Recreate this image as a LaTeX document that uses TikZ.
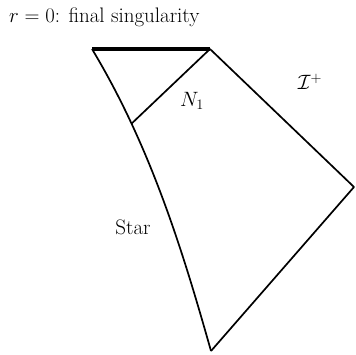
\documentclass[tikz,border=0pt]{standalone}
\usepackage{amsmath, amsfonts, amssymb}
\usepackage{tikz}
\usetikzlibrary{positioning}

\begin{document}
\begin{tikzpicture}[x=1pt, y=-1pt, % one unit per pixel of the figure
          edge/.style={draw=black, line width=1.7pt, line join=round},
          singular/.style={draw=black, line width=4pt},
          label/.style={font=\fontsize{21}{25}\selectfont, inner sep=0pt}
        ]
        \useasboundingbox (0,0) rectangle (356,354);
        % Corners of the diagram
        \coordinate (singL) at (92,49);
        \coordinate (singR) at (210,49);
        \coordinate (scri) at (354,187);
        \coordinate (bottom) at (211,351);

        % Singularity r=0
        \draw[singular] (singL) -- (singR);
        % Boundary of the star and null lines
        \draw[edge] (singL) .. controls (151,147) and (183,252) .. coordinate[pos=0.25] (nOne) (bottom);
        \draw[edge] (singR) -- (scri) -- (bottom);
        \draw[edge] (singR) -- (nOne);

        % Labels
        \node[label, anchor=base west] (title) at (9,22) {$r=0$: final singularity};
        \node[label] (nlab) at (192,101) {$N_1$};
        \node[label] (scrilab) at (310,82) {$\mathcal{I}^+$};
        \node[label] (star) at (133,227) {Star};
        \end{tikzpicture}
\end{document}
